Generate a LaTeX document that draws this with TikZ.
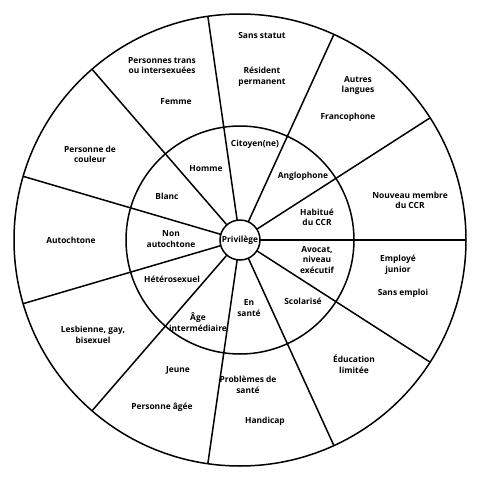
\documentclass[tikz,border=0pt]{standalone}
\usepackage{fontspec}
\setmainfont{Open Sans}
\begin{document}
\begin{tikzpicture}[x=1pt,y=-1pt,
  lbl/.style={font=\bfseries\fontsize{8.4}{10.6}\selectfont, align=center, inner sep=0pt},
  ring/.style={line width=1.5pt, draw=black}]
\useasboundingbox (0,0) rectangle (480,480);
\fill[white] (0,0) rectangle (480,480);
\draw[ring] (240,240) circle[radius=226];
\draw[ring] (240,240) circle[radius=114];
\foreach \k in {0,...,10}{
  \pgfmathsetmacro{\a}{\k*360/11}
  \draw[ring, shift={(240,240)}] (\a:20) -- (\a:226);
}
\node[ring, circle, fill=white, minimum size=40pt, inner sep=0pt, lbl] (priv) at (240,240) {Privilège};
% inner ring
\node[lbl] (cit) at (255,144.5) {Citoyen(ne)};
\node[lbl] (hom) at (206,169) {Homme};
\node[lbl] (bla) at (167,196) {Blanc};
\node[lbl] (nau) at (171,239) {Non\\autochtone};
\node[lbl] (het) at (172,279.5) {Hétérosexuel};
\node[lbl] (age) at (198,322) {Âge\\intermédiaire};
\node[lbl] (san) at (249,308) {En\\santé};
\node[lbl] (sco) at (303,301.5) {Scolarisé};
\node[lbl] (avo) at (317,260) {Avocat,\\niveau\\exécutif};
\node[lbl] (hab) at (317,217.5) {Habitué\\du CCR};
\node[lbl] (ang) at (303,176) {Anglophone};
% outer ring
\node[lbl] (sst) at (262,35) {Sans statut};
\node[lbl] (res) at (262,77) {Résident\\permanent};
\node[lbl] (aut) at (358,85.5) {Autres\\langues};
\node[lbl] (fra) at (348,117) {Francophone};
\node[lbl] (nou) at (410,200.5) {Nouveau membre\\du CCR};
\node[lbl] (emp) at (398,264.5) {Employé\\junior};
\node[lbl] (sem) at (403,293.5) {Sans emploi};
\node[lbl] (edu) at (354,364) {Éducation\\limitée};
\node[lbl] (pro) at (248,385) {Problèmes de\\santé};
\node[lbl] (han) at (265,421) {Handicap};
\node[lbl] (jeu) at (178,370.5) {Jeune};
\node[lbl] (pag) at (162,407.5) {Personne âgée};
\node[lbl] (lgb) at (93,335) {Lesbienne, gay,\\bisexuel};
\node[lbl] (atc) at (71,240) {Autochtone};
\node[lbl] (pdc) at (90,154.5) {Personne de\\couleur};
\node[lbl] (fem) at (176,101.5) {Femme};
\node[lbl] (ptr) at (162,65.5) {Personnes trans\\ou intersexuées};
\end{tikzpicture}
\end{document}
